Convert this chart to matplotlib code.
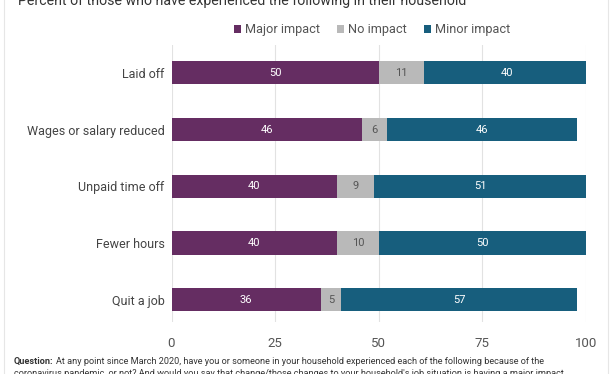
import matplotlib
matplotlib.use("Agg")
import matplotlib.pyplot as plt
from matplotlib.patches import Rectangle

plt.rcParams['font.family'] = ['Roboto', 'DejaVu Sans']

categories = ["Laid off", "Wages or salary reduced", "Unpaid time off", "Fewer hours", "Quit a job"]
major = [50, 46, 40, 40, 36]
none_ = [11, 6, 9, 10, 5]
minor = [40, 46, 51, 50, 57]
series_names = ["Major impact", "No impact", "Minor impact"]
colors = ["#652d62", "#b9b9b9", "#175e7d"]
xticks = [0, 25, 50, 75, 100]

W, H = 612, 374
fig = plt.figure(figsize=(W/100, H/100), dpi=100)

# card border
fig.patches.append(Rectangle((4/W, -0.1), (608-4)/W, 1.2, transform=fig.transFigure,
                             fill=False, edgecolor="#e6e6e6", linewidth=0.8))

left, right = 171.5, 585.7
top, bottom = 45, 322
ax = fig.add_axes([left/W, 1 - bottom/H, (right-left)/W, (bottom-top)/H])

y = list(range(len(categories)))
lefts = [0]*len(categories)
for vals, col, name in zip([major, none_, minor], colors, series_names):
    ax.barh(y, vals, left=lefts, height=0.41, color=col, label=name)
    for yi, l, v in zip(y, lefts, vals):
        ax.text(l + v/2, yi, str(v), ha='center', va='center', fontsize=8,
                color="#555555" if col == "#b9b9b9" else "white")
    lefts = [a + b for a, b in zip(lefts, vals)]

ax.set_xlim(0, 100)
ax.set_ylim(4.39, -0.49)
ax.set_xticks(xticks)
ax.set_xticklabels([str(t) for t in xticks], fontsize=9.5, color="#555555")
ax.set_yticks(y)
ax.set_yticklabels(categories, fontsize=9, color="#444444")
ax.tick_params(axis='x', length=0, pad=11)
ax.tick_params(axis='y', length=0, pad=5)
ax.grid(axis='x', color="#e2e2e2", linewidth=0.8)
ax.set_axisbelow(True)
for s in ax.spines.values():
    s.set_visible(False)

leg = fig.legend(loc='center', bbox_to_anchor=(372/W, 1 - 30/H), ncol=3, frameon=False,
                 fontsize=9.2, handlelength=0.6, handleheight=0.6, handletextpad=0.3,
                 columnspacing=1.3)
for t in leg.get_texts():
    t.set_color("#555555")

fig.text(18/W, 1 - 1/H, "Percent of those who have experienced the following in their household",
         fontsize=10.15, color="#333333", ha='left', va='center')

q = fig.text(14/W, 1 - 361/H, "Question:", fontsize=6.6, fontweight='bold',
             color="#333333", ha='left', va='center')
fig.canvas.draw()
bb = q.get_window_extent()
fig.text((bb.x1 + 2)/W, 1 - 361/H,
         "At any point since March 2020, have you or someone in your household experienced each of the following because of the",
         fontsize=6.6, color="#333333", ha='left', va='center')
fig.text(14/W, 1 - 373/H,
         "coronavirus pandemic, or not? And would you say that change/those changes to your household's job situation is having a major impact,",
         fontsize=6.6, color="#333333", ha='left', va='center')

fig.savefig("out.png", dpi=100)
